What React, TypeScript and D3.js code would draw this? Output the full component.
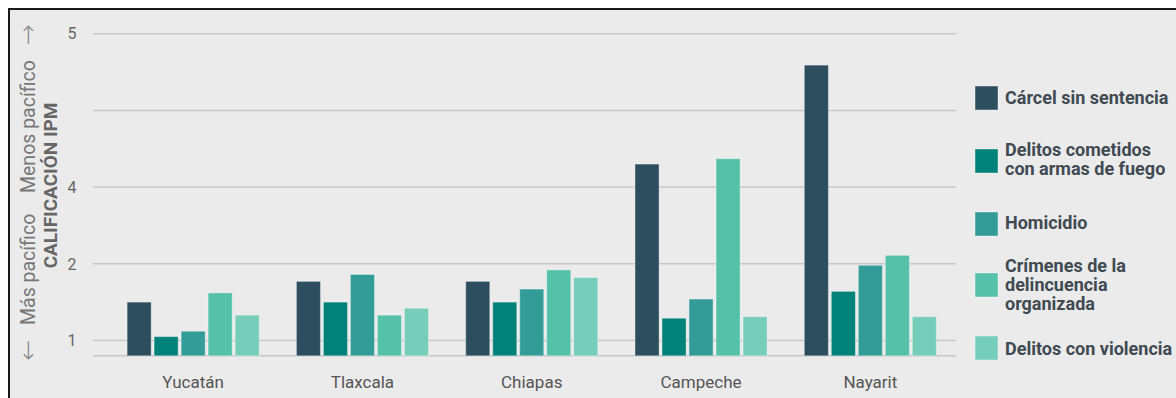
import React from "react";
import * as d3 from "d3";

const states = ["Yucatán", "Tlaxcala", "Chiapas", "Campeche", "Nayarit"];
const seriesNames = [
  "Cárcel sin sentencia",
  "Delitos cometidos con armas de fuego",
  "Homicidio",
  "Crímenes de la delincuencia organizada",
  "Delitos con violencia",
];
const legendLines = [
  ["Cárcel sin sentencia"],
  ["Delitos cometidos", "con armas de fuego"],
  ["Homicidio"],
  ["Crímenes de la", "delincuencia", "organizada"],
  ["Delitos con violencia"],
];
const colors = ["#2D4E5E", "#00827A", "#339C98", "#55C1A8", "#76CDB9"];

// values per state, in series order
const carcel = [1.5, 1.77, 1.77, 3.3, 4.59];
const armas = [1.05, 1.5, 1.5, 1.29, 1.64];
const homicidio = [1.12, 1.86, 1.67, 1.54, 1.98];
const crimenes = [1.62, 1.33, 1.92, 3.37, 2.11];
const violencia = [1.33, 1.42, 1.82, 1.31, 1.31];
const seriesValues = [carcel, armas, homicidio, crimenes, violencia];

const tickValues = [1, 2, 3, 4, 5];
const tickLabels = ["1", "2", "4", "", "5"];

export default function App() {
  const W = 1176;
  const H = 398;
  const x0 = d3.scaleBand<string>().domain(states).range([108.5, 955]).paddingInner(0.22).paddingOuter(0.11);
  const x1 = d3
    .scaleBand<number>()
    .domain(d3.range(seriesNames.length))
    .range([0, x0.bandwidth()])
    .paddingInner(0.11);
  const y = d3.scaleLinear().domain([0.8, 5]).range([355.8, 33.7]);
  const font = "Roboto, 'Noto Sans', sans-serif";
  const arrowFont = "'DejaVu Sans', sans-serif";
  const gridX1 = 93;
  const gridX2 = 956;

  return (
    <svg
      width={W}
      height={H}
      style={{ position: "absolute", left: 0, top: 0, background: "#fff" }}
      fontFamily={font}
    >
      <rect x={9} y={9} width={1200} height={420} fill="#EBEBEB" stroke="#1a1a1a" strokeWidth={2} />
      {tickValues.map((t, i) => (
        <g key={t}>
          <line x1={gridX1} x2={gridX2} y1={y(t)} y2={y(t)} stroke="#C8C8C8" strokeWidth={1.5} />
          <text x={72} y={y(t)} dy="0.36em" textAnchor="middle" fontSize={16} fill="#666">
            {tickLabels[i]}
          </text>
        </g>
      ))}
      <line x1={gridX1} x2={gridX2} y1={y(0.8)} y2={y(0.8)} stroke="#C8C8C8" strokeWidth={1.5} />
      {states.map((s, si) => (
        <g key={s} transform={`translate(${x0(s)},0)`}>
          {seriesValues.map((vals, k) => (
            <rect
              key={k}
              x={x1(k)}
              y={y(vals[si])}
              width={x1.bandwidth()}
              height={y(0.8) - y(vals[si])}
              fill={colors[k]}
              stroke="rgba(255,255,255,0.35)"
              strokeWidth={1}
            />
          ))}
          <text x={x0.bandwidth() / 2} y={388} textAnchor="middle" fontSize={17} fill="#555">
            {s}
          </text>
        </g>
      ))}
      <g transform="translate(35,187) rotate(-90)" fontSize={19.5} fill="#777">
        <text x={-163} y={1} textAnchor="middle" fontFamily={arrowFont} fontSize={25} fontWeight={200} fill="#888">
          ←
        </text>
        <text x={-138} y={0} textAnchor="start">
          Más pacífico
        </text>
        <text x={-6} y={0} textAnchor="start">
          Menos pacífico
        </text>
        <text x={152} y={1} textAnchor="middle" fontFamily={arrowFont} fontSize={25} fontWeight={200} fill="#888">
          →
        </text>
      </g>
      <text
        transform="translate(57,185.5) rotate(-90)"
        textAnchor="middle"
        fontSize={19}
        fontWeight={700}
        fill="#666"
      >
        CALIFICACIÓN IPM
      </text>
      {legendLines.map((lines, k) => {
        const squareY = [86, 149, 212, 273, 336][k];
        const baseY = [104, 156, 229, 272, 355][k];
        return (
          <g key={k}>
            <rect x={975} y={squareY} width={23} height={24} fill={colors[k]} stroke="rgba(255,255,255,0.4)" />
            {lines.map((ln, j) => (
              <text key={j} x={1005} y={baseY + j * 19} fontSize={18} fontWeight={700} fill="#3F4A52">
                {ln}
              </text>
            ))}
          </g>
        );
      })}
    </svg>
  );
}
